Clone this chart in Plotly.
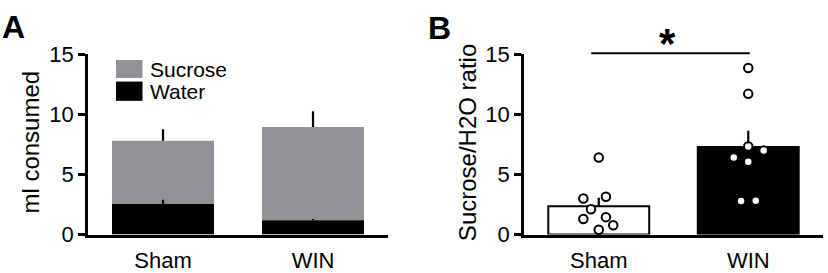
import plotly.graph_objects as go

W, H = 828, 273

groups = ["Sham", "WIN"]
group_x = [0, 1]

# Panel A: stacked consumption (ml)
water = [2.55, 1.2]
water_err = [0.35, 0.1]
sucrose = [5.25, 7.75]
total_err = [0.95, 1.3]

# Panel B: sucrose/H2O ratio
ratio_mean = [2.36, 7.29]
ratio_err = [0.7, 1.34]
sham_pts = [6.4, 3.0, 3.15, 2.1, 1.3, 1.45, 0.78, 0.4]
sham_jit = [0, -0.103, 0.048, -0.052, -0.103, 0.048, 0.097, 0]
win_pts = [13.85, 11.7, 7.32, 6.99, 6.4, 6.05, 2.8, 2.82]
win_jit = [0, 0, 0, 0.103, -0.097, 0, -0.048, 0.05]

yticks = [0, 5, 10, 15]
yrange = [0, 15]
xrange_ = [-0.5, 1.5]
sig_span = [-0.05, 1.01]
sig_level = 15.07

GRAY = "#929296"
FONT = "Liberation Sans, Arial, Helvetica, sans-serif"

def px_x(p):
    return p / W

def px_y(p):
    return 1 - p / H

xdomA = [px_x(88), px_x(388)]
xdomB = [px_x(524), px_x(823)]
ydom = [px_y(248), px_y(47)]

def data_to_paper_x(v, dom):
    return dom[0] + (v - xrange_[0]) / (xrange_[1] - xrange_[0]) * (dom[1] - dom[0])

def data_to_paper_y(v):
    return ydom[0] + (v - yrange[0]) / (yrange[1] - yrange[0]) * (ydom[1] - ydom[0])

fig = go.Figure()

total = [w + s for w, s in zip(water, sucrose)]

# Panel A bars
fig.add_trace(go.Bar(x=group_x, y=sucrose, base=water, width=0.68,
                     marker=dict(color=GRAY, line=dict(width=0)),
                     name="Sucrose", xaxis="x", yaxis="y", showlegend=False))
fig.add_trace(go.Bar(x=group_x, y=water, width=0.68,
                     marker=dict(color="black", line=dict(width=0)),
                     name="Water", xaxis="x", yaxis="y", showlegend=False))
fig.add_trace(go.Scatter(x=group_x, y=total, mode="markers",
                         marker=dict(size=1, color="rgba(0,0,0,0)"),
                         error_y=dict(type="data", array=total_err, arrayminus=[0, 0],
                                      symmetric=False, width=0, thickness=2.2, color="black"),
                         xaxis="x", yaxis="y", showlegend=False, hoverinfo="skip"))
fig.add_trace(go.Scatter(x=group_x, y=water, mode="markers",
                         marker=dict(size=1, color="rgba(0,0,0,0)"),
                         error_y=dict(type="data", array=water_err, arrayminus=[0, 0],
                                      symmetric=False, width=0, thickness=2.2, color="black"),
                         xaxis="x", yaxis="y", showlegend=False, hoverinfo="skip"))

# Panel B bars
fig.add_trace(go.Bar(x=group_x, y=ratio_mean, width=0.675,
                     marker=dict(color=["white", "black"], line=dict(color="black", width=2)),
                     xaxis="x2", yaxis="y2", showlegend=False))
fig.add_trace(go.Scatter(x=group_x, y=ratio_mean, mode="markers",
                         marker=dict(size=1, color="rgba(0,0,0,0)"),
                         error_y=dict(type="data", array=ratio_err, arrayminus=[0, 0],
                                      symmetric=False, width=0, thickness=2.2, color="black"),
                         xaxis="x2", yaxis="y2", showlegend=False, hoverinfo="skip"))
fig.add_trace(go.Scatter(x=[group_x[0] + j for j in sham_jit], y=sham_pts, mode="markers",
                         marker=dict(size=8.5, color="white", line=dict(color="black", width=2)),
                         xaxis="x2", yaxis="y2", showlegend=False, cliponaxis=False))
fig.add_trace(go.Scatter(x=[group_x[1] + j for j in win_jit], y=win_pts, mode="markers",
                         marker=dict(size=8.5, color="white", line=dict(color="black", width=2)),
                         xaxis="x2", yaxis="y2", showlegend=False, cliponaxis=False))

xa = dict(range=xrange_, tickvals=group_x, ticktext=groups, showline=True,
          linecolor="black", linewidth=2.5, ticks="", showgrid=False, zeroline=False,
          ticklabelstandoff=4,
          tickfont=dict(size=22, color="black", family=FONT), fixedrange=True)
ya = dict(range=yrange, tickvals=yticks, showline=True, linecolor="black", linewidth=2.5,
          ticks="outside", ticklen=7, tickwidth=2.5, tickcolor="black", showgrid=False,
          zeroline=False, tickfont=dict(size=22, color="black", family=FONT), domain=ydom,
          fixedrange=True)

fig.update_layout(
    width=W, height=H, margin=dict(l=0, r=0, t=0, b=0),
    plot_bgcolor="white", paper_bgcolor="white", barmode="overlay",
    font=dict(family=FONT, color="black"),
    xaxis=dict(xa, domain=xdomA, anchor="y"),
    yaxis=dict(ya, anchor="x"),
    xaxis2=dict(xa, domain=xdomB, anchor="y2"),
    yaxis2=dict(ya, anchor="x2"),
)

# Significance line and star (paper coords derived from data scale)
sig_y = data_to_paper_y(sig_level)
x0s = data_to_paper_x(sig_span[0], xdomB)
x1s = data_to_paper_x(sig_span[1], xdomB)
fig.add_shape(type="line", xref="paper", yref="paper", x0=x0s, x1=x1s, y0=sig_y, y1=sig_y,
              line=dict(color="black", width=2))
fig.add_annotation(xref="paper", yref="paper", x=px_x(667), y=px_y(35), text="<b>*</b>",
                   showarrow=False, font=dict(size=42, color="black", family=FONT),
                   xanchor="center", yanchor="middle")

# Legend (custom)
fig.add_shape(type="rect", xref="paper", yref="paper", x0=px_x(116), x1=px_x(142.5),
              y0=px_y(73.5), y1=px_y(53.5), fillcolor=GRAY, line=dict(width=0))
fig.add_shape(type="rect", xref="paper", yref="paper", x0=px_x(116), x1=px_x(142.5),
              y0=px_y(99), y1=px_y(77.5), fillcolor="black", line=dict(width=0))
fig.add_annotation(xref="paper", yref="paper", x=px_x(149), y=px_y(64.3), text="Sucrose",
                   showarrow=False, xanchor="left", yanchor="middle", borderpad=0,
                   font=dict(size=21, color="black", family=FONT))
fig.add_annotation(xref="paper", yref="paper", x=px_x(149), y=px_y(88.5), text="Water",
                   showarrow=False, xanchor="left", yanchor="middle", borderpad=0,
                   font=dict(size=21, color="black", family=FONT))

# Axis titles
fig.add_annotation(xref="paper", yref="paper", x=px_x(31), y=px_y(145.5), text="ml consumed",
                   textangle=-90, showarrow=False, xanchor="center", yanchor="middle",
                   font=dict(size=24, color="black", family=FONT))
fig.add_annotation(xref="paper", yref="paper", x=px_x(467), y=px_y(145), text="Sucrose/H2O ratio",
                   textangle=-90, showarrow=False, xanchor="center", yanchor="middle",
                   font=dict(size=24, color="black", family=FONT))

# Panel letters
fig.add_annotation(xref="paper", yref="paper", x=px_x(0), y=px_y(17), text="<b>A</b>",
                   showarrow=False, xanchor="left", yanchor="middle",
                   font=dict(size=32, color="black", family=FONT))
fig.add_annotation(xref="paper", yref="paper", x=px_x(426), y=px_y(17.5), text="<b>B</b>",
                   showarrow=False, xanchor="left", yanchor="middle",
                   font=dict(size=32, color="black", family=FONT))

fig.write_html("out.html")
